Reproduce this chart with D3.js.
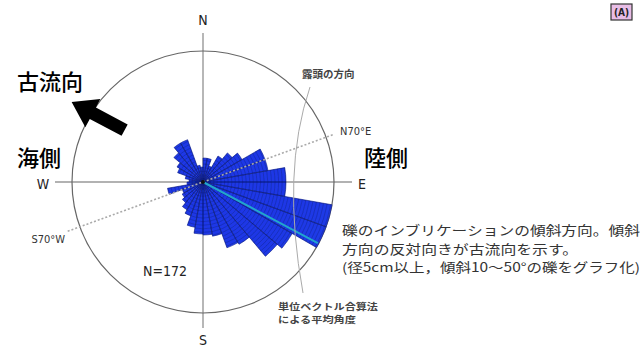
<!DOCTYPE html>
<html>
<head>
<meta charset="utf-8">
<script src="https://cdn.jsdelivr.net/npm/d3@7"></script>
<style>
  body { margin: 0; background: #fff; }
  svg { display: block; }
  .narrow { font-family: "Liberation Sans Narrow", "DejaVu Sans Condensed", "Liberation Sans", sans-serif; }
  .jp { font-family: "Noto Sans CJK JP", sans-serif; }
</style>
</head>
<body>
<svg id="chart" width="642" height="350"></svg>
<script>
// bin start (deg, clockwise from north), 10 deg wide
var binStarts = [0, 10, 20, 30, 40, 50, 60, 70, 80, 90, 100, 110,
  120, 130, 140, 150, 160, 170, 180, 190, 200, 210, 220, 230,
  240, 250, 260, 270, 280, 290, 300, 310, 320, 330, 340, 350]
// relative frequency per bin
var binValues = [2.4, 2.4, 1.7, 3.0, 3.8, 4.5, 6.6, 6.6, 8.3, 8.3, 13.1, 13.1,
  10.3, 9.7, 7.2, 7.0, 5.5, 5.3, 5.2, 4.6, 3.6, 3.2, 2.7, 2.4,
  2.2, 3.6, 1.6, 1.4, 1.8, 2.7, 3.0, 3.8, 4.5, 4.5, 1.7, 1.5]
var binWidth = 10
var outerValue = 13.1 // value at the outer circle
var meanAngle = 118 // unit vector mean (deg)
var outcropAngle = 70 // N70°E
var sampleCount = 172
var compass = ['N', 'E', 'S', 'W']
var noteLines = [
  '礫のインブリケーションの傾斜方向。傾斜',
  '方向の反対向きが古流向を示す。',
  '(径5cm以上，傾斜10～50°の礫をグラフ化)'
]

;(function () {
  var svg = d3.select('#chart')
  var cx = 203
  var cy = 182
  var R = 131
  var rad = Math.PI / 180

  var mapr = d3.scaleLinear().domain([0, outerValue]).range([0, R])
  var pt = (deg, r) => [cx + r * Math.sin(deg * rad), cy - r * Math.cos(deg * rad)]

  var g = svg.append('g').attr('transform', `translate(${cx},${cy})`)

  /*
      --------------------------------------
      Axes cross + circle
  */
  g.append('line').attr('x1', 0).attr('x2', 0).attr('y1', -149).attr('y2', 146)
    .attr('stroke', '#999').attr('stroke-width', 1.4)
  g.append('line').attr('x1', -148).attr('x2', 149).attr('y1', 0).attr('y2', 0)
    .attr('stroke', '#999').attr('stroke-width', 1.4)
  g.append('circle').attr('r', mapr(outerValue))
    .attr('fill', 'none').attr('stroke', '#666').attr('stroke-width', 1.2)

  /*
      --------------------------------------
      Rose sectors
  */
  var arc = d3.arc()
    .innerRadius(0)
    .outerRadius(d => mapr(d.value))
    .startAngle(d => d.start * rad)
    .endAngle(d => (d.start + binWidth) * rad)

  var bins = binStarts.map((s, i) => ({start: s, value: binValues[i]}))

  var clip = svg.append('defs').append('clipPath').attr('id', 'roseclip')
  clip.selectAll('path').data(bins).enter().append('path')
    .attr('transform', `translate(${cx},${cy})`)
    .attr('d', arc)

  g.selectAll('path.bar').data(bins).enter().append('path')
    .classed('bar', true)
    .attr('d', arc)
    .attr('fill', '#1f3be6')

  // ring texture inside the sectors
  var tex = svg.append('g').attr('clip-path', 'url(#roseclip)')
    .append('g').attr('transform', `translate(${cx},${cy})`)
  tex.selectAll('circle').data(d3.range(3.6, R + 4, 3.6)).enter().append('circle')
    .attr('r', d => d)
    .attr('fill', 'none').attr('stroke', '#10207a').attr('stroke-width', 0.6).attr('opacity', 0.6)
  tex.selectAll('line').data(bins).enter().append('line')
    .attr('x1', 0).attr('y1', 0)
    .attr('x2', d => mapr(outerValue) * Math.sin(d.start * rad))
    .attr('y2', d => -mapr(outerValue) * Math.cos(d.start * rad))
    .attr('stroke', '#10207a').attr('stroke-width', 0.6).attr('opacity', 0.6)

  g.selectAll('path.edge').data(bins).enter().append('path')
    .classed('edge', true)
    .attr('d', arc)
    .attr('fill', 'none').attr('stroke', '#12228a').attr('stroke-width', 0.6)

  /*
      --------------------------------------
      Outcrop direction (dotted) + mean angle
  */
  var a = pt(outcropAngle, 138)
  var b = pt(outcropAngle + 180, 145)
  svg.append('line').attr('x1', a[0]).attr('y1', a[1]).attr('x2', b[0]).attr('y2', b[1])
    .attr('stroke', '#aaa').attr('stroke-width', 1.6).attr('stroke-dasharray', '2,2')

  var m = pt(meanAngle, mapr(outerValue) - 1)
  svg.append('line').attr('x1', cx).attr('y1', cy).attr('x2', m[0]).attr('y2', m[1])
    .attr('stroke', '#22a6cc').attr('stroke-width', 2)
  svg.append('circle').attr('cx', cx).attr('cy', cy).attr('r', 2).attr('fill', '#111')

  // leader curve for the labels on the right
  svg.append('path')
    .attr('d', 'M310,87 Q281,172 303,293')
    .attr('fill', 'none').attr('stroke', '#aaa').attr('stroke-width', 1)

  /*
      --------------------------------------
      Paleocurrent arrow (opposite of the mean)
  */
  var flow = meanAngle + 180
  var tail = pt(303.5, 94)
  var arrow = svg.append('g')
    .attr('transform', `translate(${tail[0]},${tail[1]}) rotate(${flow})`)
  arrow.append('path')
    .attr('d', 'M-6.5,0 L-6.5,-36 L-16,-36 L0,-60 L16,-36 L6.5,-36 L6.5,0 Z')
    .attr('fill', '#000')

  /*
      --------------------------------------
      Texts
  */
  var pos = [[203, 25], [362, 189], [203, 345], [43, 189]]
  svg.selectAll('text.dir').data(compass).enter().append('text')
    .attr('class', 'narrow')
    .attr('x', (d, i) => pos[i][0]).attr('y', (d, i) => pos[i][1])
    .attr('text-anchor', 'middle').attr('font-size', 14).attr('fill', '#222')
    .text(d => d)

  svg.append('text').attr('class', 'narrow').attr('x', 340).attr('y', 135)
    .attr('font-size', 11).attr('fill', '#333').text('N70°E')
  svg.append('text').attr('class', 'narrow').attr('x', 65).attr('y', 243)
    .attr('text-anchor', 'end').attr('font-size', 11).attr('fill', '#333').text('S70°W')
  svg.append('text').attr('class', 'narrow').attr('x', 143).attr('y', 276)
    .attr('font-size', 14).attr('fill', '#222').text('N=' + sampleCount)

  var big = [['古流向', 17, 90], ['海側', 17, 166], ['陸側', 364, 166]]
  svg.selectAll('text.big').data(big).enter().append('text')
    .attr('class', 'jp')
    .attr('x', d => d[1]).attr('y', d => d[2])
    .attr('font-size', 22).attr('font-weight', 500).attr('fill', '#000')
    .text(d => d[0])

  svg.append('text').attr('class', 'jp').attr('x', 302).attr('y', 78)
    .attr('font-size', 10.5).attr('font-weight', 700).attr('fill', '#444').text('露頭の方向')
  svg.append('text').attr('class', 'jp').attr('x', 278).attr('y', 310)
    .attr('font-size', 9).attr('font-weight', 700).attr('fill', '#444')
    .attr('textLength', 100).attr('lengthAdjust', 'spacingAndGlyphs').text('単位ベクトル合算法')
  svg.append('text').attr('class', 'jp').attr('x', 278).attr('y', 323.3)
    .attr('font-size', 9).attr('font-weight', 700).attr('fill', '#444')
    .attr('textLength', 78).attr('lengthAdjust', 'spacingAndGlyphs').text('による平均角度')

  svg.selectAll('text.note').data(noteLines).enter().append('text')
    .attr('class', 'jp')
    .attr('x', 342).attr('y', (d, i) => 235 + i * 18.6)
    .attr('font-size', 12.8).attr('fill', '#333')
    .attr('textLength', (d, i) => i === 1 ? 236 : 298)
    .attr('lengthAdjust', 'spacingAndGlyphs')
    .text(d => d)

  // panel tag
  svg.append('rect').attr('x', 611).attr('y', 4).attr('width', 21).attr('height', 16)
    .attr('fill', '#e8bde6').attr('stroke', '#333').attr('stroke-width', 1.2)
  svg.append('text').attr('class', 'narrow').attr('x', 621.5).attr('y', 16)
    .attr('text-anchor', 'middle').attr('font-size', 10).attr('font-weight', 700)
    .attr('fill', '#222').text('(A)')
})()
</script>
</body>
</html>
